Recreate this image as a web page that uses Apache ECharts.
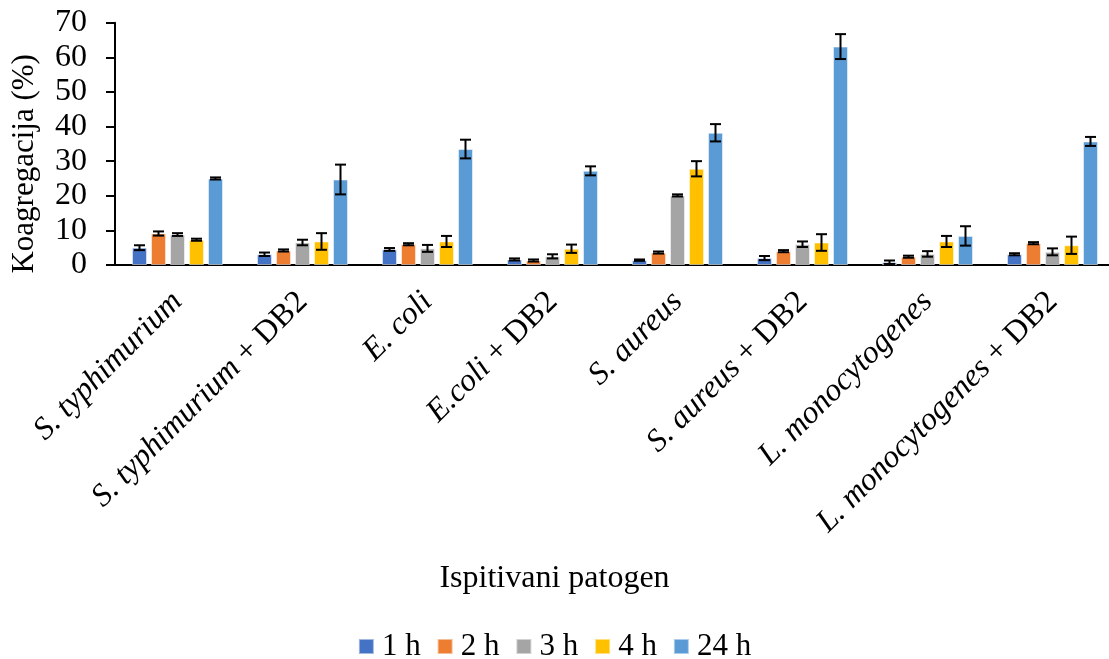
<!DOCTYPE html>
<html>
<head>
<meta charset="utf-8">
<script src="https://cdn.jsdelivr.net/npm/echarts@6/dist/echarts.min.js"></script>
<style>html,body{margin:0;padding:0;background:#fff}#c{width:1109px;height:659px}</style>
</head>
<body>
<div id="c"></div>
<script>
const species = ['S. typhimurium','S. typhimurium','E. coli','E.coli','S. aureus','S. aureus','L. monocytogenes','L. monocytogenes'];
const suffix = ['', ' + DB2', '', ' + DB2', '', ' + DB2', '', ' + DB2'];
const categories = species.map((s, i) => s + suffix[i]);
const seriesNames = ['1 h', '2 h', '3 h', '4 h', '24 h'];
const h1 = [5.0, 3.1, 4.5, 1.6, 1.4, 2.0, 0.8, 3.1];
const h1err = [0.7, 0.5, 0.4, 0.3, 0.2, 0.6, 0.5, 0.3];
const h2 = [9.1, 4.2, 6.0, 1.3, 3.6, 4.0, 2.4, 6.3];
const h2err = [0.6, 0.3, 0.3, 0.3, 0.3, 0.3, 0.3, 0.3];
const h3 = [8.8, 6.5, 4.8, 2.5, 20.1, 6.0, 3.2, 3.8];
const h3err = [0.4, 0.8, 1.0, 0.6, 0.3, 0.8, 0.8, 1.0];
const h4 = [7.3, 6.8, 6.8, 4.7, 27.8, 6.5, 6.8, 5.7];
const h4err = [0.3, 2.4, 1.6, 1.2, 2.2, 2.4, 1.6, 2.5];
const h24 = [25.0, 24.7, 33.5, 27.2, 38.2, 63.1, 8.4, 35.7];
const h24err = [0.3, 4.3, 2.7, 1.3, 2.5, 3.6, 2.8, 1.3];
const yTicks = [0, 10, 20, 30, 40, 50, 60, 70];

const values = [h1, h2, h3, h4, h24];
const errors = [h1err, h2err, h3err, h4err, h24err];
const colors = ['#4472C4', '#ED7D31', '#A5A5A5', '#FFC000', '#5B9BD5'];
const FONT = 'Liberation Serif';
const BW = 15, GAP = 4;
const n = seriesNames.length;

const chart = echarts.init(document.getElementById('c'), null, {renderer: 'canvas'});

const series = [];
values.forEach((vals, si) => {
  series.push({
    name: seriesNames[si],
    type: 'bar',
    data: vals,
    barWidth: BW,
    barGap: (GAP / BW * 100) + '%',
    itemStyle: {color: colors[si], borderColor: 'rgba(255,255,255,0.5)', borderWidth: 1},
    z: 2
  });
});
values.forEach((vals, si) => {
  const offset = -(n * BW + (n - 1) * GAP) / 2 + si * (BW + GAP) + BW / 2;
  series.push({
    name: seriesNames[si],
    type: 'custom',
    data: vals.map((v, i) => [i, v - errors[si][i], v + errors[si][i]]),
    renderItem: function (params, api) {
      const lo = api.coord([api.value(0), api.value(1)]);
      const hi = api.coord([api.value(0), api.value(2)]);
      const x = lo[0] + offset;
      const cw = 5.5;
      const st = {stroke: '#000', lineWidth: 2};
      return {
        type: 'group',
        children: [
          {type: 'line', shape: {x1: x, y1: lo[1], x2: x, y2: hi[1]}, style: st},
          {type: 'line', shape: {x1: x - cw, y1: lo[1], x2: x + cw, y2: lo[1]}, style: st},
          {type: 'line', shape: {x1: x - cw, y1: hi[1], x2: x + cw, y2: hi[1]}, style: st}
        ]
      };
    },
    z: 5,
    silent: true
  });
});

chart.setOption({
  animation: false,
  backgroundColor: '#fff',
  textStyle: {fontFamily: FONT},
  title: {
    text: 'Ispitivani patogen',
    left: 'center',
    top: 558,
    textStyle: {fontFamily: FONT, fontSize: 32, fontWeight: 'normal', color: '#000'}
  },
  legend: {
    data: seriesNames,
    left: 'center',
    top: 626,
    itemWidth: 15,
    itemHeight: 15,
    itemGap: 16,
    icon: 'rect',
    textStyle: {fontFamily: FONT, fontSize: 31, color: '#000', padding: [0, 0, 0, 3]}
  },
  grid: {left: 115, right: -6, top: 22.7, bottom: 394, containLabel: false, outerBoundsMode: 'none'},
  xAxis: {
    type: 'category',
    data: categories,
    axisLine: {lineStyle: {color: '#000', width: 2}},
    axisTick: {show: false},
    axisLabel: {
      interval: 0,
      rotate: 45,
      margin: 32,
      hideOverlap: false,
      color: '#000',
      fontFamily: FONT,
      fontSize: 32,
      formatter: function (v, i) {
        return '{i|' + species[i] + '}' + (suffix[i] ? '{n|' + suffix[i] + '}' : '');
      },
      rich: {
        i: {fontFamily: FONT, fontSize: 32, fontStyle: 'italic', color: '#000'},
        n: {fontFamily: FONT, fontSize: 32, color: '#000'}
      }
    }
  },
  yAxis: {
    type: 'value',
    min: yTicks[0],
    max: yTicks[yTicks.length - 1],
    interval: yTicks[1] - yTicks[0],
    name: 'Koagregacija (%)',
    nameLocation: 'middle',
    nameGap: 75,
    nameMoveOverlap: false,
    nameTextStyle: {fontFamily: FONT, fontSize: 31, color: '#000', padding: [0, 40, 0, 0]},
    axisLine: {show: true, lineStyle: {color: '#000', width: 2}},
    axisTick: {show: true, length: 9, lineStyle: {color: '#000', width: 2}},
    axisLabel: {fontFamily: FONT, fontSize: 32, color: '#000', margin: 28},
    splitLine: {show: false}
  },
  series: series
});
</script>
</body>
</html>
